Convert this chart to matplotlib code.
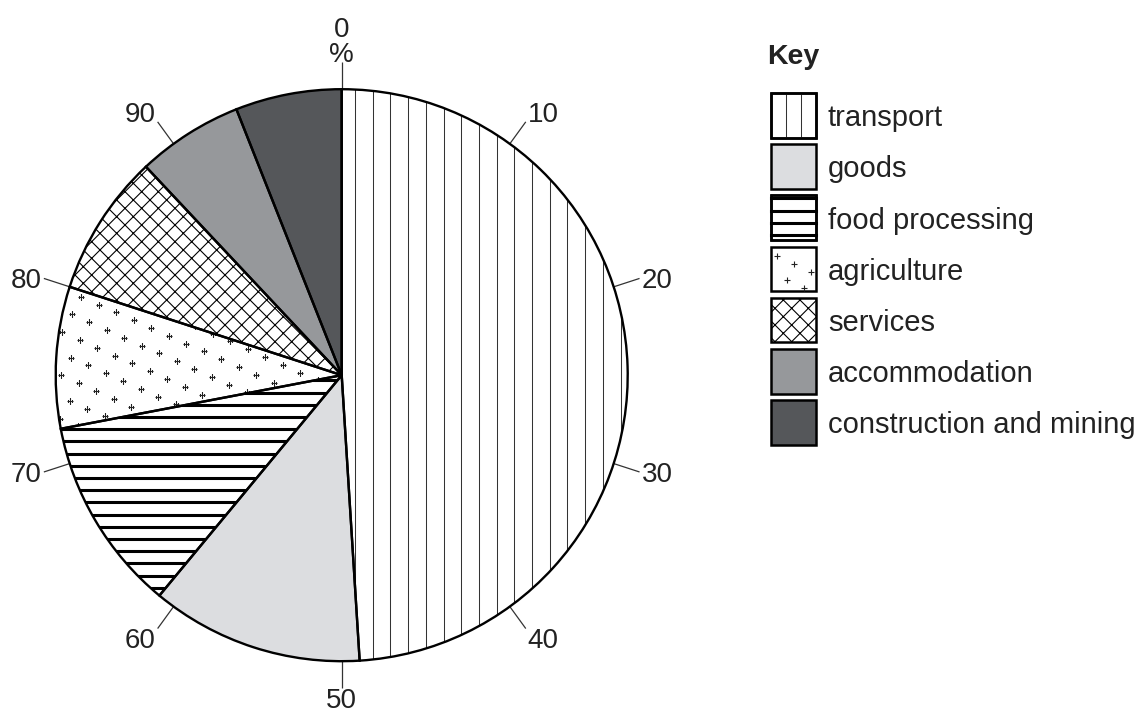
import numpy as np
import matplotlib
matplotlib.use("Agg")
import matplotlib.pyplot as plt
from matplotlib.patches import Rectangle

plt.rcParams['font.family'] = ['Liberation Sans', 'DejaVu Sans']
plt.rcParams['hatch.linewidth'] = 0.8
plt.rcParams['hatch.color'] = 'black'

# data
sectors = ['transport', 'goods', 'food processing', 'agriculture',
           'services', 'accommodation', 'construction and mining']
shares = [49, 12, 11, 8, 8, 6, 6]
tick_pcts = [0, 10, 20, 30, 40, 50, 60, 70, 80, 90]
tick_labels = ['0\n%', '10', '20', '30', '40', '50', '60', '70', '80', '90']

fills = ['white', '#dcdde0', 'white', 'white', 'white', '#96989b', '#55575a']

W, H = 1139, 717
fig = plt.figure(figsize=(W / 100, H / 100), dpi=100)
cx, cy, R = 341.7, 375.2, 286.0
lim = 1.19
side = lim * R
ax = fig.add_axes([(cx - side) / W, (H - cy - side) / H, 2 * side / W, 2 * side / H])

wedges, _ = ax.pie(shares, colors=fills, startangle=90, counterclock=False,
                   wedgeprops=dict(linewidth=0, edgecolor='black'))
wedges[4].set_hatch('xx')

# transport: thin vertical lines
xs = np.arange(0.0465, 1.0, 0.0619)
vl = ax.vlines(xs, -1.0, 1.0, colors='#333333', linewidth=0.75)
vl.set_clip_path(wedges[0])

# food processing: thick horizontal lines
ys = -(np.arange(0, 26) + 0.43) * 0.04266
hl = ax.hlines(ys, -1.0, 0.1, colors='black', linewidth=2.2)
hl.set_clip_path(wedges[2])

# agriculture: small plus marks on a tilted grid
o = np.array([-0.9115, 0.2745])
a = np.array([0.0612, -0.0273])
b = np.array([-0.0325, -0.0619])
gi, gj = np.meshgrid(np.arange(-40, 41), np.arange(-40, 41))
px = (o[0] + gi * a[0] + gj * b[0]).ravel()
py = (o[1] + gi * a[1] + gj * b[1]).ravel()
keep = px ** 2 + py ** 2 < 1.0
pm = ax.scatter(px[keep], py[keep], marker='+', s=16, c='#222222', linewidths=0.8)
pm.set_clip_path(wedges[3])

# outlines on top
outl, _ = ax.pie(shares, startangle=90, counterclock=False,
                 wedgeprops=dict(linewidth=1.7, edgecolor='black', fill=False))
for w in outl:
    w.set_zorder(4)

ax.set_xlim(-lim, lim)
ax.set_ylim(-lim, lim)
ax.set_aspect('equal')
ax.axis('off')

# percentage ticks
for p, lab in zip(tick_pcts, tick_labels):
    ang = np.deg2rad(90 - p * 3.6)
    x0, y0 = np.cos(ang), np.sin(ang)
    ax.plot([x0, 1.095 * x0], [y0, 1.095 * y0], color='#333333', lw=0.9,
            solid_capstyle='butt', zorder=3)
    ha = 'center' if abs(x0) < 0.2 else ('left' if x0 > 0 else 'right')
    if y0 > 0.5:
        va, dy = 'bottom', -4.5
    elif y0 < -0.5:
        va, dy = 'top', 0.5
    else:
        va, dy = 'center_baseline', 0
    dx = 1.5 if ha == 'left' else (-1.5 if ha == 'right' else 0)
    ax.annotate(lab, (1.095 * x0, 1.095 * y0), xytext=(dx, dy), textcoords='offset points',
                fontsize=20, ha=ha, va=va, color='#222222', linespacing=0.95)

# key
lax = fig.add_axes([0, 0, 1, 1])
lax.set_xlim(0, W)
lax.set_ylim(H, 0)
lax.axis('off')
lax.text(767, 64, 'Key', fontsize=20.5, fontweight='bold', va='baseline', color='#222222')
sq = 44.5
for k, name in enumerate(sectors):
    top = 93 + k * 51.2
    left = 771
    lax.add_patch(Rectangle((left, top), sq, sq, facecolor=fills[k],
                            edgecolor='black', lw=1.8, zorder=5,
                            hatch='xx' if k == 4 else None))
    if k == 0:
        for f in (1 / 3, 2 / 3):
            lax.plot([left + f * sq] * 2, [top, top + sq], color='#333333', lw=0.75, zorder=6)
    if k == 2:
        for f in (0.05, 0.35, 0.62, 0.9):
            lax.plot([left, left + sq], [top + f * sq] * 2, color='black', lw=2.2, zorder=6)
    if k == 3:
        fx = [0.135, 0.51, 0.9, 0.36, 0.75]
        fy = [0.22, 0.385, 0.56, 0.76, 0.94]
        lax.scatter([left + f * sq for f in fx], [top + f * sq for f in fy],
                    marker='+', s=16, c='#222222', linewidths=0.8, zorder=6)
    if k in (0, 2):
        lax.add_patch(Rectangle((left, top), sq, sq, facecolor='none',
                                edgecolor='black', lw=1.8, zorder=7))
    lax.text(828, top + sq / 2, name, fontsize=21, va='center_baseline', color='#222222')

fig.savefig('out.png', dpi=100)
